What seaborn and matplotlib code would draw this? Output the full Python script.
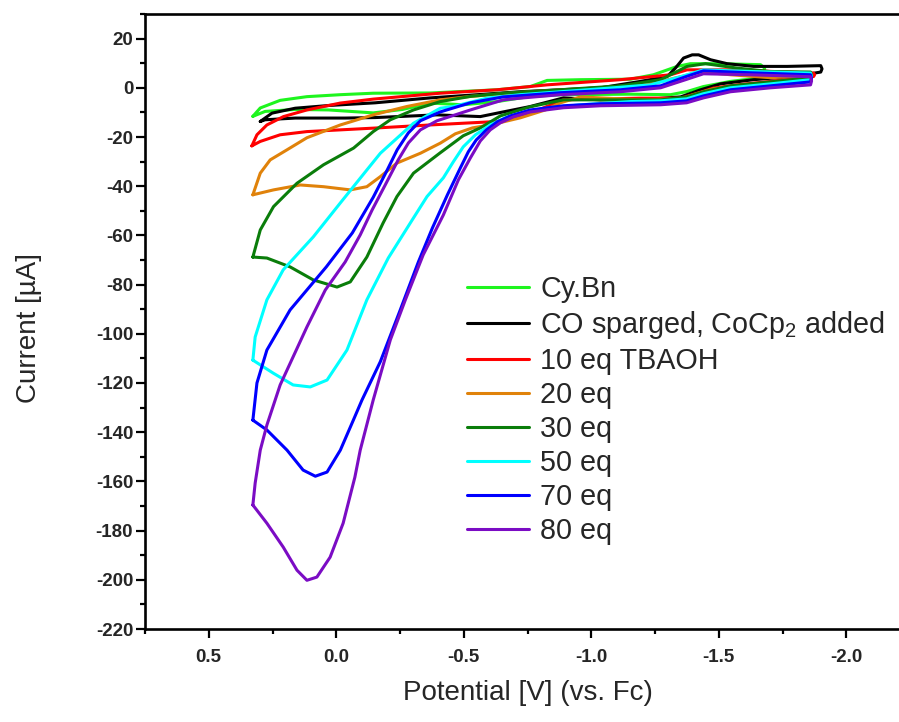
import matplotlib
matplotlib.use("Agg")
import matplotlib.pyplot as plt
from matplotlib.lines import Line2D
from matplotlib.ticker import MultipleLocator
import numpy as np
import pandas as pd
import seaborn as sns

# Cyclic voltammograms: potential (V vs. Fc) and current (uA), each a closed loop
cybn_v = [0.327, 0.298, 0.220, 0.115, -0.016, -0.145, -0.370, -0.631, -0.761, -0.827, -0.958, -1.154,
          -1.244, -1.337, -1.389, -1.507, -1.664, -1.680, -1.672, -1.651, -1.546, -1.440, -1.376, -1.311,
          -1.154, -0.891, -0.761, -0.631, -0.498, -0.369, -0.260, -0.145, 0.030, 0.161, 0.279, 0.327]
cybn_i = [-11.6, -8.2, -5.1, -3.6, -2.8, -2.2, -2.1, -0.8, 0.5, 3.0, 3.3, 3.5,
          5.3, 8.7, 9.8, 9.8, 9.4, 8.0, 4.5, 3.9, 2.6, 0.5, -1.5, -2.8,
          -2.6, -2.8, -3.5, -5.6, -6.9, -6.2, -8.8, -10.2, -9.0, -8.8, -9.6, -11.6]

co_v = [0.298, 0.252, 0.161, 0.030, -0.153, -0.369, -0.722, -1.036, -1.193, -1.298, -1.330, -1.362,
        -1.396, -1.421, -1.468, -1.533, -1.637, -1.769, -1.900, -1.905, -1.900, -1.794, -1.637, -1.507,
        -1.429, -1.350, -1.193, -1.036, -0.891, -0.761, -0.631, -0.565, -0.395, -0.153, -0.035, 0.161,
        0.279, 0.298]
co_i = [-13.7, -10.3, -8.3, -7.2, -6.1, -4.1, -1.6, 0.0, 2.6, 4.6, 8.0, 12.1,
        13.4, 13.4, 11.4, 9.8, 8.7, 8.7, 9.0, 7.7, 6.4, 4.6, 3.3, 1.6,
        -0.8, -3.7, -4.9, -4.9, -4.1, -7.6, -10.3, -11.7, -11.0, -12.1, -12.3, -12.3,
        -13.0, -13.7]

eq10_v = [0.331, 0.311, 0.272, 0.207, 0.115, -0.016, -0.145, -0.408, -0.631, -0.827, -1.115, -1.311,
          -1.376, -1.546, -1.872, -1.876, -1.872, -1.703, -1.573, -1.480, -1.416, -1.350, -1.193, -0.891,
          -0.761, -0.695, -0.631, -0.498, -0.369, -0.145, -0.016, 0.115, 0.220, 0.298, 0.331]
eq10_i = [-23.6, -19.1, -15.1, -11.7, -9.0, -6.2, -4.6, -2.2, -0.8, 1.2, 3.3, 5.3,
          7.3, 7.3, 6.0, 5.3, 4.6, 2.6, 1.2, -0.1, -2.2, -4.2, -4.2, -4.9,
          -10.3, -12.3, -13.7, -14.4, -15.1, -16.4, -17.1, -17.8, -19.1, -21.8, -23.6]

eq20_v = [0.327, 0.298, 0.259, 0.193, 0.115, -0.016, -0.145, -0.277, -0.408, -0.526, -0.761, -1.036,
          -1.232, -1.350, -1.429, -1.546, -1.703, -1.852, -1.856, -1.852, -1.703, -1.570, -1.480, -1.413,
          -1.350, -1.193, -1.036, -0.958, -0.879, -0.820, -0.722, -0.604, -0.534, -0.467, -0.408, -0.330,
          -0.238, -0.173, -0.120, -0.055, 0.050, 0.141, 0.246, 0.327]
eq20_i = [-43.5, -34.7, -29.3, -25.2, -20.3, -15.1, -11.0, -7.6, -4.9, -3.5, -1.6, 0.0,
          1.6, 4.5, 6.5, 5.3, 4.1, 4.9, 4.1, 3.3, 2.0, 0.8, -0.4, -2.4,
          -4.5, -4.9, -4.1, -3.7, -6.1, -9.0, -12.2, -15.1, -16.3, -18.7, -22.5, -26.6,
          -30.6, -36.1, -40.2, -41.5, -40.2, -39.5, -41.5, -43.5]

eq30_v = [0.327, 0.298, 0.246, 0.154, 0.050, -0.068, -0.145, -0.212, -0.303, -0.408, -0.526, -0.655,
          -0.879, -1.115, -1.272, -1.376, -1.448, -1.573, -1.703, -1.860, -1.864, -1.860, -1.703, -1.546,
          -1.440, -1.374, -1.272, -1.036, -0.891, -0.761, -0.644, -0.565, -0.498, -0.408, -0.303, -0.238,
          -0.184, -0.120, -0.055, -0.003, 0.090, 0.181, 0.272, 0.327]
eq30_i = [-68.8, -57.8, -48.3, -38.8, -31.3, -24.5, -17.8, -13.0, -9.0, -5.6, -3.5, -2.2,
          -0.8, 0.8, 3.3, 8.7, 9.8, 8.0, 6.6, 6.4, 5.2, 4.1, 2.4, 0.8,
          -1.6, -3.7, -4.9, -4.9, -4.9, -7.7, -11.4, -16.3, -19.5, -26.4, -34.7, -44.2,
          -54.9, -68.8, -78.9, -81.0, -78.1, -72.8, -69.2, -68.8]

eq50_v = [0.327, 0.318, 0.272, 0.208, 0.090, -0.016, -0.120, -0.173, -0.303, -0.408, -0.459, -0.591,
          -0.722, -1.036, -1.232, -1.350, -1.440, -1.637, -1.860, -1.864, -1.860, -1.703, -1.546, -1.440,
          -1.374, -1.272, -1.154, -0.958, -0.827, -0.722, -0.663, -0.604, -0.546, -0.498, -0.459, -0.420,
          -0.356, -0.298, -0.204, -0.120, -0.042, 0.036, 0.102, 0.169, 0.247, 0.327]
eq50_i = [-110.7, -101.3, -86.2, -74.0, -60.6, -46.8, -33.4, -26.6, -14.4, -8.3, -7.6, -4.2,
          -2.8, -0.4, 1.2, 4.5, 7.3, 6.6, 6.0, 4.6, 3.3, 1.6, 0.0, -2.4,
          -4.5, -5.3, -5.6, -6.9, -8.3, -10.3, -12.2, -15.1, -19.1, -24.0, -30.1, -36.6,
          -44.2, -53.7, -69.2, -86.2, -106.6, -118.8, -121.6, -120.8, -116.0, -110.7]

eq70_v = [0.327, 0.311, 0.272, 0.181, 0.039, -0.063, -0.145, -0.200, -0.239, -0.283, -0.330, -0.408,
          -0.526, -0.655, -0.879, -1.115, -1.272, -1.370, -1.440, -1.625, -1.860, -1.864, -1.860, -1.703,
          -1.546, -1.440, -1.374, -1.272, -1.036, -0.891, -0.761, -0.683, -0.632, -0.589, -0.549, -0.518,
          -0.487, -0.436, -0.377, -0.322, -0.251, -0.173, -0.101, -0.067, -0.016, 0.036, 0.082, 0.130,
          0.193, 0.272, 0.327]
eq70_i = [-135.1, -120.0, -106.6, -90.3, -72.8, -59.0, -44.5, -33.4, -25.2, -18.3, -13.4, -9.8,
          -6.1, -3.7, -2.0, -0.8, 0.8, 4.5, 6.9, 6.1, 5.3, 3.8, 2.4, 0.8,
          -0.8, -3.3, -5.3, -6.1, -6.5, -7.3, -9.0, -11.4, -13.8, -17.1, -21.2, -26.0,
          -32.5, -43.5, -57.0, -70.8, -90.3, -111.3, -126.9, -135.1, -147.3, -156.2, -157.9, -155.4,
          -147.3, -139.1, -135.1]

eq80_v = [0.327, 0.318, 0.298, 0.272, 0.220, 0.115, 0.043, -0.035, -0.094, -0.141, -0.192, -0.243,
          -0.283, -0.330, -0.395, -0.526, -0.655, -0.722, -0.879, -1.115, -1.272, -1.370, -1.440, -1.625,
          -1.860, -1.864, -1.860, -1.703, -1.546, -1.440, -1.374, -1.272, -1.036, -0.891, -0.761, -0.695,
          -0.644, -0.604, -0.565, -0.526, -0.479, -0.420, -0.341, -0.271, -0.212, -0.145, -0.094, -0.073,
          -0.027, 0.024, 0.076, 0.115, 0.154, 0.208, 0.272, 0.327]
eq80_i = [-169.6, -160.7, -147.3, -137.1, -120.8, -97.2, -82.2, -70.8, -59.8, -49.6, -39.5, -29.3,
          -22.4, -17.1, -13.4, -9.0, -4.9, -4.2, -2.8, -1.6, 0.0, 3.3, 5.7, 5.3,
          4.5, 2.8, 1.2, 0.0, -1.6, -4.1, -6.1, -6.9, -7.3, -8.1, -9.8, -11.8,
          -14.2, -17.1, -21.6, -28.5, -37.4, -51.7, -67.9, -86.2, -102.5, -126.9, -147.3, -158.3,
          -177.0, -190.8, -198.9, -200.2, -196.1, -186.7, -177.0, -169.6]

labels = ["Cy.Bn", "CO sparged, CoCp$_2$ added", "10 eq TBAOH", "20 eq", "30 eq",
          "50 eq", "70 eq", "80 eq"]
colors = ["#1EF51E", "#000000", "#FF0000", "#E0820A", "#0A7D0A", "#00FFFF", "#0000FF", "#7B0CC4"]
series_v = [cybn_v, co_v, eq10_v, eq20_v, eq30_v, eq50_v, eq70_v, eq80_v]
series_i = [cybn_i, co_i, eq10_i, eq20_i, eq30_i, eq50_i, eq70_i, eq80_i]

frames = []
for lab, v, i in zip(labels, series_v, series_i):
    frames.append(pd.DataFrame({"Potential": v, "Current": i, "Series": lab}))
df = pd.concat(frames, ignore_index=True)

sns.set_theme(style="ticks")
plt.rcParams["font.family"] = ["Liberation Sans", "DejaVu Sans"]
plt.rcParams["mathtext.fontset"] = "custom"
plt.rcParams["mathtext.rm"] = "Liberation Sans"
plt.rcParams["mathtext.it"] = "Liberation Sans:italic"
plt.rcParams["mathtext.default"] = "regular"
plt.rcParams["axes.unicode_minus"] = False
plt.rcParams["lines.solid_joinstyle"] = "round"

fig = plt.figure(figsize=(8.99, 7.22), dpi=100)
ax = fig.add_axes([145 / 899, 93 / 722, 765 / 899, 615 / 722])

sns.lineplot(data=df, x="Potential", y="Current", hue="Series", hue_order=labels,
             palette=colors, sort=False, estimator=None, units="Series",
             linewidth=2.2, legend=False, ax=ax)

ax.set_xlim(0.75, -2.25)
ax.set_ylim(-220, 30)
ax.xaxis.set_minor_locator(MultipleLocator(0.25))
ax.yaxis.set_minor_locator(MultipleLocator(10))
ax.set_xticks([0.5, 0.0, -0.5, -1.0, -1.5, -2.0])
ax.set_xticklabels(["0.5", "0.0", "-0.5", "-1.0", "-1.5", "-2.0"])
ax.set_yticks(np.arange(-220, 21, 20))
ax.set_yticklabels([str(t) for t in range(-220, 21, 20)])

for side in ["left", "bottom", "top", "right"]:
    ax.spines[side].set_linewidth(1.9)
    ax.spines[side].set_color("black")

ax.tick_params(axis="both", which="major", direction="out", length=6.5, width=1.6,
               labelsize=13.5, pad=2, color="black")
ax.tick_params(axis="both", which="minor", direction="out", length=3.5, width=1.6,
               color="black")
ax.tick_params(axis="x", which="major", pad=8)
for lbl in ax.get_xticklabels() + ax.get_yticklabels():
    lbl.set_fontweight("bold")

ax.set_xlabel("Potential [V] (vs. Fc)", fontsize=20, labelpad=10)
ax.set_ylabel("Current [\u00b5A]", fontsize=20)
ax.yaxis.set_label_coords(-0.135, 0.49)

handles = [Line2D([0], [0], color=c, lw=2.2) for c in colors]
ax.legend(handles, labels, loc="upper left", bbox_to_anchor=(467 / 899, 1 - 275 / 722),
          bbox_transform=fig.transFigure, frameon=False, fontsize=20.7,
          handlelength=2.15, handletextpad=0.4, labelspacing=0.21,
          borderpad=0, borderaxespad=0)

fig.savefig("out.png", dpi=100)
